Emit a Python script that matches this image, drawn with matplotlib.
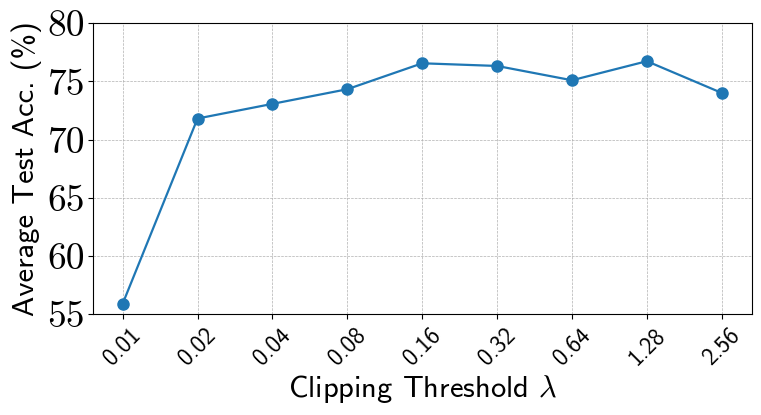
import matplotlib
matplotlib.use("Agg")
import matplotlib.pyplot as plt

plt.rcParams['mathtext.fontset'] = 'cm'

# clipping thresholds and accuracies
thresholds = ["0.01", "0.02", "0.04", "0.08", "0.16", "0.32", "0.64", "1.28", "2.56"]
accuracy = [55.88, 71.81, 73.07, 74.33, 76.56, 76.33, 75.10, 76.74, 74.01]
yticks = [55, 60, 65, 70, 75, 80]

fig = plt.figure(figsize=(7.61, 4.15), dpi=100)
ax = fig.add_axes([0.1218, 0.2434, 0.866, 0.7005])

xs = list(range(len(thresholds)))
ax.plot(xs, accuracy, marker='o', color='#1f77b4', linewidth=1.6, markersize=8)

ax.set_ylim(55, 80)
ax.set_yticks(yticks, labels=[str(v) for v in yticks])
ax.set_xticks(xs, labels=thresholds)
ax.tick_params(axis='y', labelsize=27, labelfontfamily='cmr10', pad=2)
ax.tick_params(axis='x', labelsize=17, labelfontfamily='cmss10', labelrotation=45)

ax.grid(True, linestyle='--', linewidth=0.5, color='#b0b0b0')
ax.set_axisbelow(True)

ax.set_xlabel(r"Clipping Threshold $\lambda$", fontsize=22, family='cmss10', labelpad=3)
ax.set_ylabel("Average Test Acc. (%)", fontsize=22, family='cmss10', labelpad=4)

fig.savefig("out.png", dpi=100)
